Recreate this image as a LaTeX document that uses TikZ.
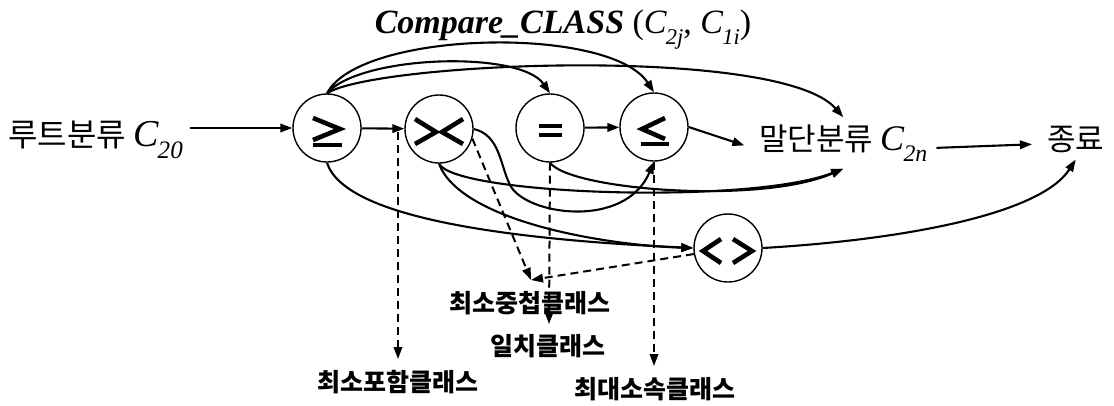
\documentclass[tikz,border=0pt]{standalone}
\usepackage{fontspec}
\usepackage{graphicx}
\setmainfont{Liberation Serif}
\newfontfamily\kr{Noto Sans CJK KR}
\usetikzlibrary{arrows.meta,calc}
\newcommand\mycsub[1]{{\itshape C\kern-0.02em\raisebox{-0.32em}{\scalebox{0.66}{#1}}}}
\tikzset{
  circ/.style={circle, draw, line width=1.4pt, minimum size=68pt, inner sep=0pt},
  arr/.style={line width=2.1pt, -{Triangle[length=12pt,width=8.5pt]}},
  darr/.style={line width=2pt, dash pattern=on 8pt off 5pt, -{Triangle[length=12pt,width=8.5pt]}},
  sym/.style={line width=4.6pt},
  lbl/.style={font=\kr\bfseries\fontsize{25}{27}\selectfont, inner sep=0pt},
  big/.style={font=\kr\fontsize{31}{33}\selectfont, inner sep=7pt},
}
\begin{document}
\begin{tikzpicture}[x=1pt,y=-1pt]
\useasboundingbox (0,0) rectangle (1114,405);
\fill[white] (0,0) rectangle (1114,405);
% circles
\node[circ] (ge) at (327,128) {};
\node[circ] (lg) at (439,129) {};
\node[circ] (eq) at (550,128) {};
\node[circ] (le) at (654,127) {};
\node[circ] (ne) at (728,248) {};
% symbols
\begin{scope}[shift={(ge.center)}]
  \draw[sym] (-14,-10) -- (13,1) -- (-14,12);
  \draw[sym] (-14,17) -- (15,17);
\end{scope}
\begin{scope}[shift={(lg.center)}]
  \draw[sym] (-24,-10) -- (-3,3) -- (-24,15);
  \draw[sym] (24,-10) -- (3,3) -- (24,15);
\end{scope}
\begin{scope}[shift={(eq.center)}]
  \draw[line width=3.5pt] (-11,-2) -- (12,-2);
  \draw[line width=3.5pt] (-11,7) -- (12,7);
\end{scope}
\begin{scope}[shift={(le.center)}]
  \draw[sym] (11,-9) -- (-12,2) -- (11,12);
  \draw[sym] (-13,17) -- (15,17);
\end{scope}
\begin{scope}[shift={(ne.center)}]
  \draw[sym] (-7,-9) -- (-25,3) -- (-7,15);
  \draw[sym] (5,-9) -- (24,3) -- (5,15);
\end{scope}
% texts
\node[big, anchor=base west, font=\kr\fontsize{32}{34}\selectfont] (root) at (1,146) {루트분류 {\rmfamily\fontsize{38}{40}\selectfont\mycsub{20}}};
\node[big, anchor=base west] (leaf) at (752,150) {말단분류 {\rmfamily\fontsize{36}{38}\selectfont\mycsub{2n}}};
\node[big, anchor=base west] (end) at (1040,150) {종료};
\node[font=\fontsize{34}{36}\selectfont, inner sep=0pt] (title) at (563,30)
  {\textbf{\textit{Compare\_CLASS}} (\mycsub{2j}, \mycsub{1i})};
\node[lbl] (lmin) at (398,382) {최소포함클래스};
\node[lbl] (lovl) at (530,303) {최소중첩클래스};
\node[lbl] (lsame) at (548,346) {일치클래스};
\node[lbl] (lmax) at (655,389) {최대소속클래스};
% straight arrows
\draw[arr] (root.east |- ge.west) -- (ge.west);
\draw[arr] (ge) -- (lg);
\draw[arr] (eq) -- (le);
\draw[arr, shorten >=8pt] (le.east) -- ([yshift=-5pt]leaf.west);
\draw[arr, shorten <=2pt, shorten >=8pt] ([yshift=-5pt]leaf.east) -- ([yshift=-5pt]end.west);
% top curves
\draw[arr] (ge.north) .. controls (360,55) and (520,50) .. (eq.north);
\draw[arr] (ge.north) .. controls (360,30) and (610,25) .. (le.north);
\draw[arr] (ge.north) .. controls (375,62) and (780,45) .. (leaf.north);
% lower curves
\draw[arr] (ge.south) .. controls (345,220) and (520,240) .. (ne.west);
\draw[arr] (lg.south) .. controls (455,195) and (750,205) .. (leaf.south);
\draw[arr] (lg.south) .. controls (460,220) and (600,245) .. (ne.west);
\draw[arr] (lg.east) .. controls (500,135) and (500,165) .. (510,185) .. controls (525,215) and (625,230) .. (le.south);
\draw[arr] (eq.south) .. controls (570,190) and (760,205) .. (leaf.south);
\draw[arr] (ne.east) .. controls (900,240) and (1040,215) .. (end.south);
% dashed arrows
\coordinate (s1) at (398,132);
\coordinate (t1) at (398,359);
\coordinate (t2) at (531,280);
\coordinate (t3) at (549,324);
\coordinate (t4) at (654,366);
\draw[darr] (s1) -- (t1);
\draw[darr] (lg.-16) -- (t2);
\draw[darr] (ne.190) -- (t2);
\draw[darr] (eq.south) -- (t3);
\draw[darr] (le.south) -- (t4);
\end{tikzpicture}
\end{document}
